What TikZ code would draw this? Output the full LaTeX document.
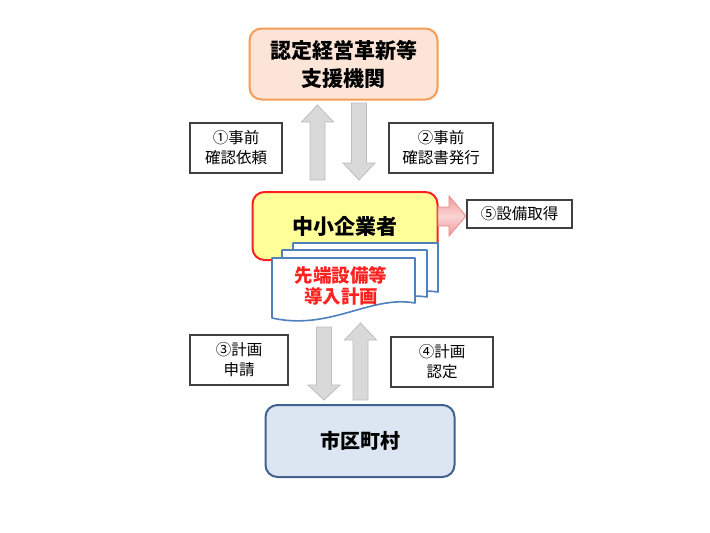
\documentclass[tikz,border=0pt]{standalone}
\usepackage{fontspec}
\setmainfont{Noto Sans CJK JP}
\usetikzlibrary{calc}
\definecolor{orgline}{HTML}{F59D56}
\definecolor{orgfill}{HTML}{FCE4D6}
\definecolor{yelfill}{HTML}{FFFF99}
\definecolor{redline}{HTML}{FF2020}
\definecolor{blueline}{HTML}{41618F}
\definecolor{bluefill}{HTML}{DCE6F2}
\definecolor{docline}{HTML}{4F81BD}
\definecolor{arrfill}{HTML}{D9D9D9}
\definecolor{arrline}{HTML}{BDBDBD}
\definecolor{pinkdark}{HTML}{F09A9A}
\definecolor{pinklight}{HTML}{FBD3D3}
\definecolor{pinkline}{HTML}{E88A8A}
\tikzset{
  bigbox/.style={rounded corners=12pt, line width=2pt, align=center, inner sep=0pt, font=\bfseries},
  labelbox/.style={draw=black!75, line width=1.1pt, fill=white, align=center, inner sep=0pt, font=\fontsize{15.5}{20}\selectfont},
  blockarrow/.style={fill=arrfill, draw=arrline, line width=0.8pt},
  docpage/.style={fill=white, draw=docline, line width=1.6pt, line join=round},
}
\newcommand{\vblockarr}[4]{%
  \draw[blockarrow] ({#1-7.5},#2) -- ({#1-7.5},#3) -- ({#1-16},#3) -- (#1,#4)
    -- ({#1+16},#3) -- ({#1+7.5},#3) -- ({#1+7.5},#2) -- cycle;}
\begin{document}
\begin{tikzpicture}[x=1pt,y=-1pt]
\useasboundingbox (0,0) rectangle (710,533);
% top box
\node[bigbox, draw=orgline, fill=orgfill, minimum width=188pt, minimum height=71pt,
  font=\bfseries\fontsize{21}{28}\selectfont] (shien) at (343.5,64) {認定経営革新等\\支援機関};
% middle box
\node[bigbox, draw=redline, fill=yelfill, minimum width=185pt, minimum height=68pt,
  font=\bfseries\fontsize{21}{28}\selectfont] (chusho) at (345,226) {中小企業者};
% bottom box
\node[bigbox, draw=blueline, fill=bluefill, minimum width=189pt, minimum height=72pt,
  font=\bfseries\fontsize{20}{26}\selectfont] (shiku) at (360,441) {市区町村};
% document stack
\draw[docpage] (293,243) -- (438,243) -- (438,292) .. controls (393,285) and (353,318) .. (293,306) -- cycle;
\draw[docpage] (282,250) -- (427,250) -- (427,297) .. controls (382,290) and (342,324) .. (282,312) -- cycle;
\draw[docpage] (272,258) -- (415,258) -- (415,303) .. controls (370,295) and (330,331) .. (272,318) -- cycle;
\node[text=redline, align=center, font=\bfseries\fontsize{18.5}{21}\selectfont] (keikaku) at (341,286) {先端設備等\\導入計画};
% gray block arrows
\vblockarr{317.5}{180}{122}{105}
\vblockarr{359}{103}{163}{180}
\vblockarr{324}{327}{385}{400}
\vblockarr{360.5}{400}{340}{323}
% pink arrow
\draw[top color=pinkdark, bottom color=pinkdark, middle color=pinklight, draw=pinkline, line width=0.8pt]
  (438,207) -- (449,207) -- (449,196) -- (466,216) -- (449,236) -- (449,226) -- (438,226) -- cycle;
% label boxes
\node[labelbox, minimum width=92pt, minimum height=50pt] (l1) at (236,148) {①事前\\確認依頼};
\node[labelbox, minimum width=104pt, minimum height=50pt] (l2) at (441,148) {②事前\\確認書発行};
\node[labelbox, minimum width=105pt, minimum height=28pt] (l5) at (519.5,214) {⑤設備取得};
\node[labelbox, minimum width=98pt, minimum height=50pt] (l3) at (239,360) {③計画\\申請};
\node[labelbox, minimum width=102pt, minimum height=50pt] (l4) at (442,362) {④計画\\認定};
\end{tikzpicture}
\end{document}
